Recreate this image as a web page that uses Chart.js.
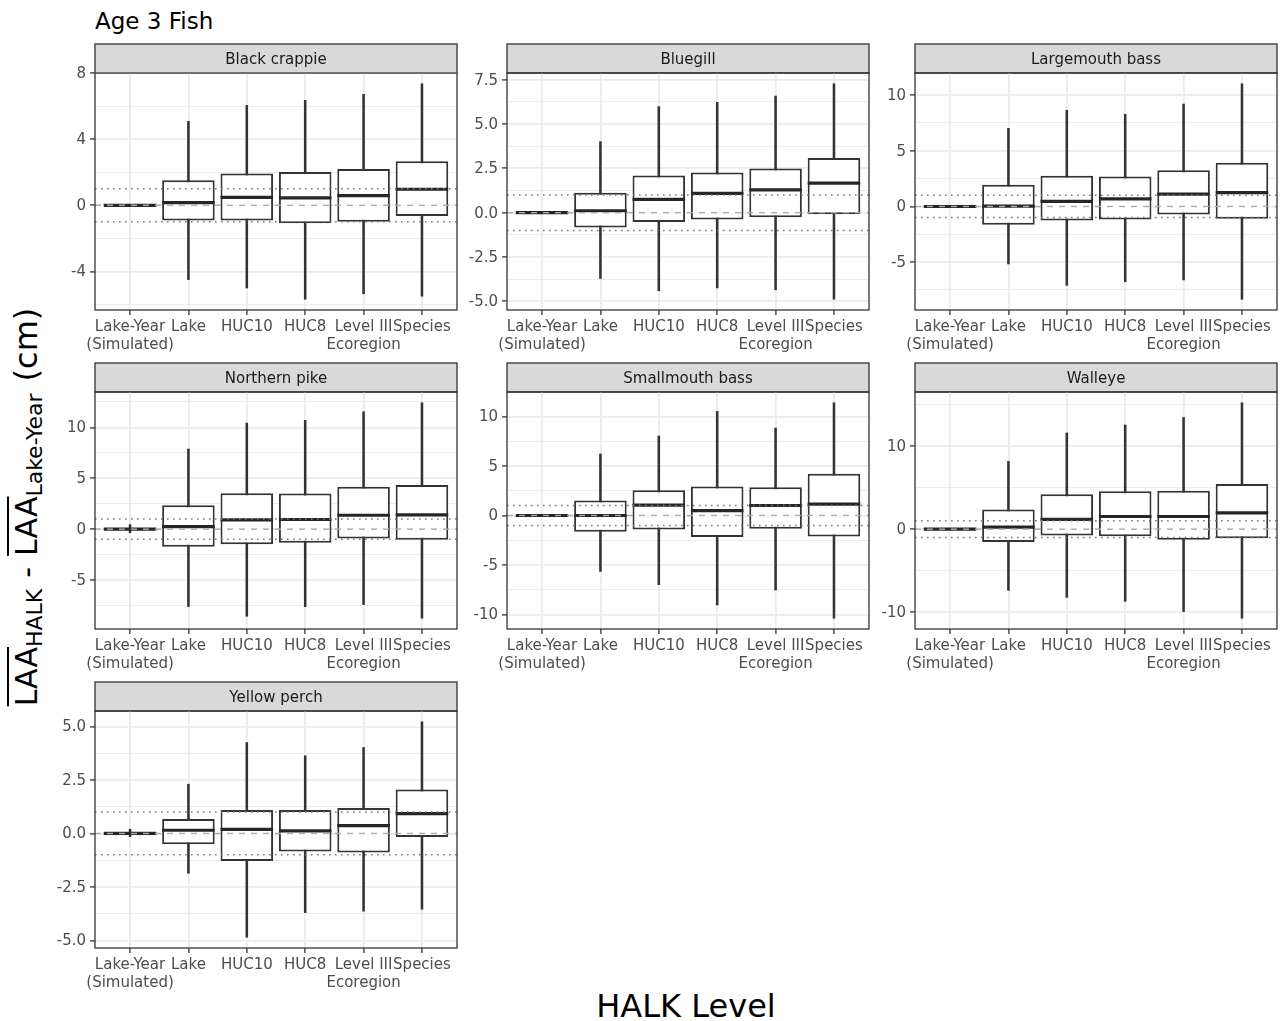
<!DOCTYPE html>
<html>
<head>
<meta charset="utf-8">
<script src="https://cdn.jsdelivr.net/npm/chart.js@4.4.1/dist/chart.umd.min.js"></script>
<style>
  body { margin: 0; background: #fff; font-family: "DejaVu Sans", sans-serif; }
  #wrap { position: relative; width: 1280px; height: 1021px; overflow: hidden; }
  #wrap canvas { position: absolute; }
  #title { position: absolute; left: 95px; top: 10px; font-size: 23px; line-height: 23px; color: #000; }
  #xtitle { position: absolute; left: 0; width: 1372px; top: 990px; text-align: center; font-size: 32px; line-height: 32px; color: #000; }
  #ytitle { position: absolute; left: 26px; top: 507px; transform: translate(-50%, -50%) rotate(-90deg);
            white-space: nowrap; font-size: 30px; line-height: 1; color: #000; }
  #ytitle .ov { text-decoration: overline; text-decoration-thickness: 2px; }
  #ytitle sub { font-size: 22px; vertical-align: -5px; line-height: 0; }
  #ytitle .op { margin: 0 11px; }
  #ytitle .cm { font-size: 32px; margin-left: 12px; }
</style>
</head>
<body>
<div id="wrap">
  <div id="title">Age 3 Fish</div>
  <div id="ytitle"><span class="ov">LAA</span><sub>HALK</sub><span class="op">-</span><span class="ov">LAA</span><sub>Lake-Year</sub><span class="cm">(cm)</span></div>
  <div id="xtitle">HALK Level</div>
</div>
<script>
// HALK levels (x categories)
const levels = ["Lake-Year (Simulated)", "Lake", "HUC10", "HUC8", "Level III Ecoregion", "Species"];
const levelTickLabels = [["Lake-Year", "(Simulated)"], "Lake", "HUC10", "HUC8", ["Level III", "Ecoregion"], "Species"];

// one row per level: [lower whisker, Q1, median, Q3, upper whisker]
const blackCrappie = [
  [0, 0, 0, 0, 0],
  [-4.49, -0.92, 0.16, 1.51, 5.08],
  [-5.00, -0.92, 0.48, 1.92, 6.04],
  [-5.68, -1.09, 0.45, 2.02, 6.35],
  [-5.35, -1.00, 0.59, 2.20, 6.71],
  [-5.50, -0.64, 0.97, 2.66, 7.35]
];
const bluegill = [
  [0, 0, 0, 0, 0],
  [-3.71, -0.84, 0.11, 1.12, 4.01],
  [-4.40, -0.52, 0.75, 2.10, 5.98],
  [-4.24, -0.38, 1.09, 2.27, 6.22],
  [-4.35, -0.26, 1.29, 2.49, 6.58],
  [-4.88, -0.09, 1.67, 3.09, 7.27]
];
const largemouthBass = [
  [0, 0, 0, 0, 0],
  [-5.16, -1.64, 0.03, 1.94, 7.02],
  [-7.08, -1.25, 0.45, 2.75, 8.64],
  [-6.75, -1.16, 0.69, 2.69, 8.28],
  [-6.60, -0.72, 1.11, 3.26, 9.20],
  [-8.33, -1.10, 1.25, 3.92, 11.02]
];
const northernPike = [
  [-0.35, 0, 0, 0, 0.45],
  [-7.61, -1.73, 0.26, 2.35, 7.88],
  [-8.56, -1.47, 0.92, 3.53, 10.43],
  [-7.61, -1.33, 0.95, 3.50, 10.69],
  [-7.41, -0.91, 1.37, 4.16, 11.54],
  [-8.75, -1.04, 1.41, 4.35, 12.42]
];
const smallmouthBass = [
  [0, 0, 0, 0, 0],
  [-5.65, -1.64, 0.00, 1.51, 6.22],
  [-6.99, -1.41, 1.04, 2.55, 8.03],
  [-9.04, -2.18, 0.50, 2.92, 10.52],
  [-7.53, -1.34, 1.01, 2.86, 8.84],
  [-10.38, -2.12, 1.14, 4.23, 11.39]
];
const walleye = [
  [0, 0, 0, 0, 0],
  [-7.37, -1.56, 0.24, 2.37, 8.17],
  [-8.21, -0.76, 1.17, 4.21, 11.59],
  [-8.69, -0.84, 1.53, 4.57, 12.55],
  [-9.93, -1.27, 1.53, 4.62, 13.46],
  [-10.73, -1.08, 1.97, 5.45, 15.23]
];
const yellowPerch = [
  [-0.15, 0, 0, 0, 0.20],
  [-1.86, -0.50, 0.15, 0.68, 2.30],
  [-4.85, -1.29, 0.19, 1.10, 4.25],
  [-3.70, -0.84, 0.12, 1.10, 3.63],
  [-3.63, -0.89, 0.37, 1.19, 4.02],
  [-3.54, -0.17, 0.93, 2.06, 5.22]
];

// y tick values and their labels per panel
const blackCrappieTicks = [-4, 0, 4, 8];
const blackCrappieLabels = ["-4", "0", "4", "8"];
const bluegillTicks = [-5, -2.5, 0, 2.5, 5, 7.5];
const bluegillLabels = ["-5.0", "-2.5", "0.0", "2.5", "5.0", "7.5"];
const largemouthTicks = [-5, 0, 5, 10];
const largemouthLabels = ["-5", "0", "5", "10"];
const pikeTicks = [-5, 0, 5, 10];
const pikeLabels = ["-5", "0", "5", "10"];
const smallmouthTicks = [-10, -5, 0, 5, 10];
const smallmouthLabels = ["-10", "-5", "0", "5", "10"];
const walleyeTicks = [-10, 0, 10];
const walleyeLabels = ["-10", "0", "10"];
const perchTicks = [-5, -2.5, 0, 2.5, 5];
const perchLabels = ["-5.0", "-2.5", "0.0", "2.5", "5.0"];

// reference lines: 0 (dashed) and +/-1 cm (dotted)
const zeroLine = [0];
const bandLines = [-1, 1];

const panels = [
  { name: "Black crappie",   rows: blackCrappie,   ticks: blackCrappieTicks, labels: blackCrappieLabels, col: 0, row: 0 },
  { name: "Bluegill",        rows: bluegill,       ticks: bluegillTicks,     labels: bluegillLabels,     col: 1, row: 0 },
  { name: "Largemouth bass", rows: largemouthBass, ticks: largemouthTicks,   labels: largemouthLabels,   col: 2, row: 0 },
  { name: "Northern pike",   rows: northernPike,   ticks: pikeTicks,         labels: pikeLabels,         col: 0, row: 1 },
  { name: "Smallmouth bass", rows: smallmouthBass, ticks: smallmouthTicks,   labels: smallmouthLabels,   col: 1, row: 1 },
  { name: "Walleye",         rows: walleye,        ticks: walleyeTicks,      labels: walleyeLabels,      col: 2, row: 1 },
  { name: "Yellow perch",    rows: yellowPerch,    ticks: perchTicks,        labels: perchLabels,        col: 0, row: 2 }
];

// layout
const colLeft = [95, 507, 915];
const rowTop = [44, 363, 682];
const AXIS_W = 70, PLOT_W = 362, PLOT_H = 237, STRIP_H = 29, XAXIS_H = 50, PAD_T = 2;
const FONT = "DejaVu Sans";
const BOX_HALF = 0.45 * PLOT_W / 6.2;
const MEDIAN_W = 3.2;
// the median points make Chart.js reserve room on the right; give it that room
const PAD_R = Math.ceil(BOX_HALF + MEDIAN_W) + 1;

Chart.defaults.font.family = FONT;

// strip, panel border and reference lines
const facetPlugin = {
  id: "facet",
  beforeDraw(chart, args, opts) {
    const a = chart.chartArea, ctx = chart.ctx;
    ctx.save();
    ctx.fillStyle = "#D9D9D9";
    ctx.fillRect(a.left, a.top - STRIP_H, a.right - a.left, STRIP_H);
    ctx.strokeStyle = "#333333";
    ctx.lineWidth = 1.3;
    ctx.strokeRect(a.left, a.top - STRIP_H, a.right - a.left, STRIP_H);
    ctx.fillStyle = "#1A1A1A";
    ctx.font = "15px '" + FONT + "'";
    ctx.textAlign = "center";
    ctx.textBaseline = "middle";
    ctx.fillText(opts.name, (a.left + a.right) / 2, a.top - STRIP_H / 2 + 2);
    ctx.restore();
  },
  afterDatasetsDraw(chart) {
    const a = chart.chartArea, ctx = chart.ctx, y = chart.scales.y;
    ctx.save();
    ctx.beginPath();
    ctx.rect(a.left, a.top, a.right - a.left, a.bottom - a.top);
    ctx.clip();
    ctx.lineWidth = 1.4;
    ctx.strokeStyle = "#ABABAB";
    ctx.setLineDash([6, 6]);
    zeroLine.forEach(v => {
      const py = y.getPixelForValue(v);
      ctx.beginPath(); ctx.moveTo(a.left, py); ctx.lineTo(a.right, py); ctx.stroke();
    });
    ctx.strokeStyle = "#7A7A7A";
    ctx.lineWidth = 1.5;
    ctx.setLineDash([1.6, 4.4]);
    bandLines.forEach(v => {
      const py = y.getPixelForValue(v);
      ctx.beginPath(); ctx.moveTo(a.left, py); ctx.lineTo(a.right, py); ctx.stroke();
    });
    ctx.restore();
  },
  afterDraw(chart) {
    const a = chart.chartArea, ctx = chart.ctx;
    ctx.save();
    ctx.strokeStyle = "#333333";
    ctx.lineWidth = 1.3;
    ctx.strokeRect(a.left, a.top, a.right - a.left, a.bottom - a.top);
    ctx.restore();
  }
};

const wrap = document.getElementById("wrap");

panels.forEach(p => {
  const canvas = document.createElement("canvas");
  canvas.width = AXIS_W + PLOT_W + PAD_R;
  canvas.height = PAD_T + STRIP_H + PLOT_H + XAXIS_H;
  canvas.style.left = (colLeft[p.col] - AXIS_W) + "px";
  canvas.style.top = (rowTop[p.row] - PAD_T) + "px";
  wrap.appendChild(canvas);

  // y range from whiskers with 5% expansion
  const lo = Math.min(...p.rows.map(r => r[0]));
  const hi = Math.max(...p.rows.map(r => r[4]));
  const pad = (hi - lo) * 0.05;
  const yMin = lo - pad, yMax = hi + pad;

  // minor grid halfway between major ticks
  const step = p.ticks[1] - p.ticks[0];
  const minor = [];
  for (let v = p.ticks[0] - step / 2; v <= yMax; v += step) {
    if (v >= yMin) minor.push(v);
  }
  const allTicks = p.ticks.concat(minor).sort((a, b) => a - b);
  const isMajor = v => p.ticks.some(t => Math.abs(t - v) < 1e-9);

  new Chart(canvas, {
    type: "bar",
    data: {
      datasets: [
        {
          label: "whisker",
          data: p.rows.map((r, i) => ({ x: i, y: [r[0], r[4]] })),
          backgroundColor: "#333333",
          barThickness: 1.9,
          grouped: false,
          order: 3
        },
        {
          label: "box",
          data: p.rows.map((r, i) => ({ x: i, y: [r[1], r[3]] })),
          backgroundColor: "#FFFFFF",
          borderColor: "#333333",
          borderWidth: 2,
          borderSkipped: false,
          categoryPercentage: 0.9,
          barPercentage: 1,
          grouped: false,
          order: 2
        },
        {
          type: "line",
          label: "median",
          data: p.rows.map((r, i) => ({ x: i, y: r[2] })),
          showLine: false,
          pointStyle: "line",
          pointRadius: BOX_HALF,
          pointHoverRadius: BOX_HALF,
          pointBorderWidth: MEDIAN_W,
          pointBorderColor: "#262626",
          borderColor: "#262626",
          order: 1
        }
      ]
    },
    options: {
      responsive: false,
      animation: false,
      devicePixelRatio: 1,
      events: [],
      layout: { padding: { top: PAD_T + STRIP_H, right: PAD_R, left: 0, bottom: 0 } },
      plugins: {
        legend: { display: false },
        tooltip: { enabled: false },
        facet: { name: p.name }
      },
      scales: {
        x: {
          type: "linear",
          min: -0.6,
          max: levels.length - 0.4,
          offset: false,
          border: { display: false },
          grid: { offset: false, color: "#EBEBEB", lineWidth: 1.8, tickColor: "#333333", tickLength: 5, tickWidth: 1.3 },
          afterBuildTicks: s => { s.ticks = levels.map((_, i) => ({ value: i })); },
          afterFit: s => { s.height = XAXIS_H; },
          ticks: {
            autoSkip: false, maxRotation: 0, minRotation: 0, padding: 3,
            color: "#4D4D4D", font: { size: 15, lineHeight: 1.2 },
            callback: v => levelTickLabels[v]
          }
        },
        y: {
          type: "linear",
          min: yMin,
          max: yMax,
          border: { display: false },
          grid: {
            color: "#EBEBEB",
            lineWidth: c => (c.tick && isMajor(c.tick.value)) ? 1.8 : 0.9,
            tickColor: c => (c.tick && isMajor(c.tick.value)) ? "#333333" : "rgba(0,0,0,0)",
            tickLength: 5,
            tickWidth: 1.3
          },
          afterBuildTicks: s => { s.ticks = allTicks.map(v => ({ value: v })); },
          afterFit: s => { s.width = AXIS_W; },
          ticks: {
            autoSkip: false, padding: 4, labelOffset: 1,
            color: "#4D4D4D", font: { size: 15 },
            callback: v => {
              const k = p.ticks.findIndex(t => Math.abs(t - v) < 1e-9);
              return k >= 0 ? p.labels[k] : "";
            }
          }
        }
      }
    },
    plugins: [facetPlugin]
  });
});
</script>
</body>
</html>
